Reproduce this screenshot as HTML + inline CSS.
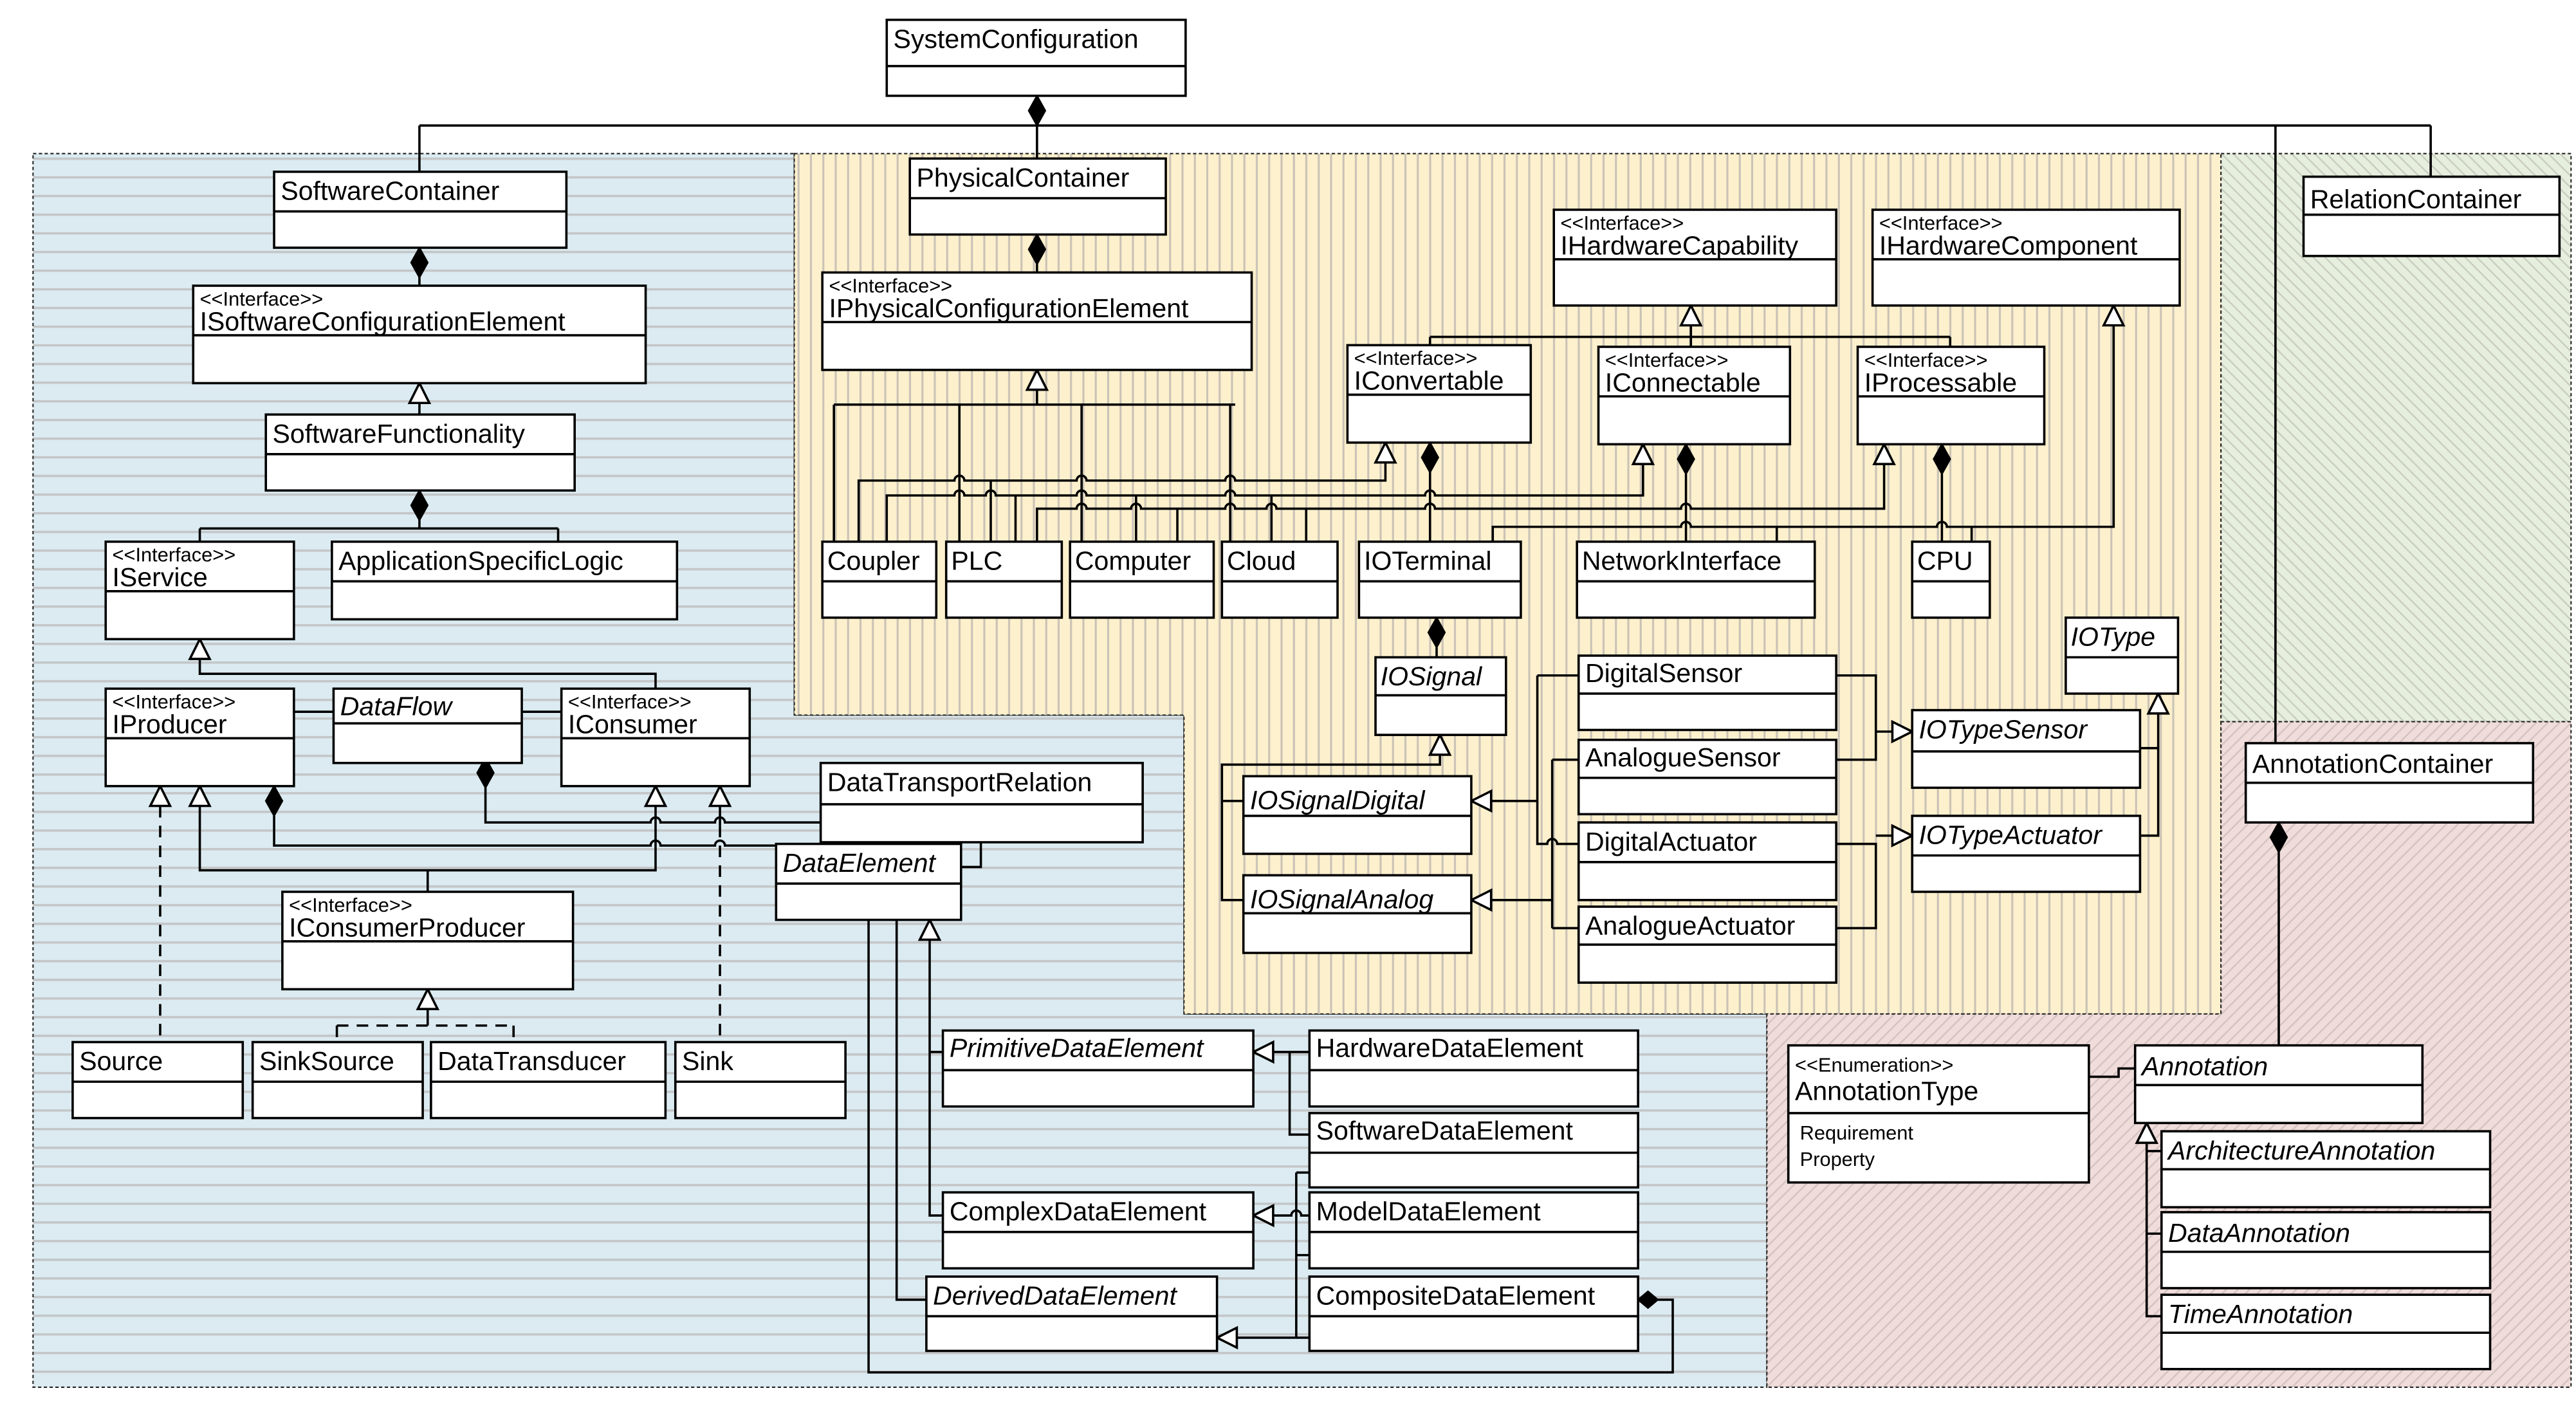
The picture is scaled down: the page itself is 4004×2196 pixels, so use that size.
<!DOCTYPE html>
<html><head><meta charset="utf-8"><style>
html,body{margin:0;padding:0;background:#fff;}
svg{display:block;}
text{font-family:"Liberation Sans",Arial,sans-serif;fill:#000;transform:translateY(-3px);}
.n{font-size:16px;}
.m{transform:translateY(-1px);}
.s{font-size:12px;transform:translateY(-2px);}
.i{font-style:italic;}
.b{fill:#fff;stroke:#000;stroke-width:1.4;}
.l{fill:none;stroke:#000;stroke-width:1.4;}
.d{fill:none;stroke:#000;stroke-width:1.4;stroke-dasharray:7 5;}
.t{fill:#fff;stroke:#000;stroke-width:1.4;}
.k{fill:#000;stroke:#000;stroke-width:1;}
.rg{stroke:#222;stroke-width:0.8;stroke-dasharray:2 1.5;fill:none;}
</style></head><body>
<svg width="4004" height="2196" viewBox="0 0 1560 855.6" preserveAspectRatio="none" xmlns="http://www.w3.org/2000/svg">
<defs>
<pattern id="pb" width="10" height="11.3" patternUnits="userSpaceOnUse"><rect width="10" height="11.3" fill="#dbebf1"/><rect y="5" width="10" height="1.4" fill="#c4c6c8"/></pattern>
<pattern id="py" width="7.5" height="10" patternUnits="userSpaceOnUse"><rect width="7.5" height="10" fill="#fdf0cd"/><rect x="3" width="1.2" height="10" fill="#c9c2b6"/></pattern>
<pattern id="pg" width="5" height="5" patternUnits="userSpaceOnUse" patternTransform="rotate(-45)"><rect width="5" height="5" fill="#e6eedd"/><rect width="0.9" height="5" fill="#c8ccc0"/></pattern>
<pattern id="pr" width="5" height="5" patternUnits="userSpaceOnUse" patternTransform="rotate(45)"><rect width="5" height="5" fill="#f0dcda"/><rect width="0.9" height="5" fill="#d2c2c0"/></pattern>
</defs>
<rect width="1560" height="855.6" fill="#fff"/>
<path d="M20 93 H481 V433 H717 V614 H1070 V840 H20 Z" class="rg" style="fill:url(#pb)"/>
<path d="M481 93 H1345 V614 H717 V433 H481 Z" style="fill:url(#py)" class="rg"/>
<path d="M1345 93 H1557 V437 H1345 Z" style="fill:url(#pg)" class="rg"/>
<path d="M1345 437 H1557 V840 H1070 V614 H1345 Z" style="fill:url(#pr)" class="rg"/>

<path class="l" d="M628 58 V76 M254 76 H1472 M254 76 V104 M628 76 V96 M1378 76 V450 M1472 76 V107"/>
<path class="k" d="M628 58 l5 9 l-5 9 l-5 -9 z"/>

<path class="l" d="M254 150 V173 M254 232 V251 M254 297 V320 M121 320 H338 M121 320 V328 M338 320 V328 M121 387 V408 H397 V417 M178 431 H202 M316 431 H340"/>
<path class="k" d="M254 150 l5 9 l-5 9 l-5 -9 z"/>
<path class="t" d="M254 232 l6 12 h-12 z"/>
<path class="k" d="M254 297 l5 9 l-5 9 l-5 -9 z"/>
<path class="t" d="M121 387 l6 12 h-12 z"/>
<path class="l" d="M294 477 V498 H394 a3 3 0 0 1 6 0 H433 a3 3 0 0 1 6 0 H497"/>
<path class="k" d="M294 459 l5 9 l-5 9 l-5 -9 z"/>
<path class="l" d="M166 494 V512 H394 a3 3 0 0 1 6 0 H433 a3 3 0 0 1 6 0 H470"/>
<path class="k" d="M166 476 l5 9 l-5 9 l-5 -9 z"/>
<path class="l" d="M121 488 V527 H397 V488 M259 527 V540 M436 488 V500"/>
<path class="t" d="M121 476 l6 12 h-12 z"/>
<path class="t" d="M397 476 l6 12 h-12 z"/>
<path class="t" d="M436 476 l6 12 h-12 z"/>
<path class="t" d="M97 476 l6 12 h-12 z"/>
<path class="d" d="M97 488 V631 M436 500 V631"/>
<path class="l" d="M259 611 V621"/>
<path class="t" d="M259 599 l6 12 h-12 z"/>
<path class="d" d="M204 621 H311 M204 621 V631 M311 621 V631"/>
<path class="l" d="M594 510 V525 H582"/>
<path class="l" d="M526 557 V831 H1013 V787 H1004 M543 557 V787 H561 M563 569 V736 H571 M563 637 H571"/>
<path class="t" d="M563 557 l6 12 h-12 z"/>
<path class="k" d="M992 787 l6 -5 l6 5 l-6 5 z"/>
<path class="l" d="M771 637 H793 M781 637 V687 H793 M771 736 H782 a3 3 0 0 1 6 0 H793 M785 710 H793 M785 760 H793 M785 710 V810 H793 M749 810 H785"/>
<path class="t" d="M759 637 l12 -6 v12 z"/>
<path class="t" d="M759 736 l12 -6 v12 z"/>
<path class="t" d="M737 810 l12 -6 v12 z"/>

<path class="l" d="M628 160 V165 M628 236 V245 M505 245 H748 M505 245 V328 M581 245 V328 M655 245 V328 M745 245 V328"/>
<path class="k" d="M628 142 l5 9 l-5 9 l-5 -9 z"/>
<path class="t" d="M628 224 l6 12 h-12 z"/>
<path class="l" d="M520 328 V291 H578 a3 3 0 0 1 6 0 H652 a3 3 0 0 1 6 0 H742 a3 3 0 0 1 6 0 H839 V280 M600 291 V328"/>
<path class="t" d="M839 268 l6 12 h-12 z"/>
<path class="l" d="M537 328 V300 H578 a3 3 0 0 1 6 0 H597 a3 3 0 0 1 6 0 H652 a3 3 0 0 1 6 0 H742 a3 3 0 0 1 6 0 H863 a3 3 0 0 1 6 0 H995 V281 M615 300 V328 M688 300 V328 M770 300 V328"/>
<path class="t" d="M995 269 l6 12 h-12 z"/>
<path class="l" d="M628 328 V308 H652 a3 3 0 0 1 6 0 H685 a3 3 0 0 1 6 0 H742 a3 3 0 0 1 6 0 H767 a3 3 0 0 1 6 0 H863 a3 3 0 0 1 6 0 H1018 a3 3 0 0 1 6 0 H1141 V281 M713 308 V328 M791 308 V328"/>
<path class="t" d="M1141 269 l6 12 h-12 z"/>
<path class="l" d="M904 328 V319 H1018 a3 3 0 0 1 6 0 H1173 a3 3 0 0 1 6 0 H1280 V197 M1076 319 V328 M1194 319 V328"/>
<path class="t" d="M1280 185 l6 12 h-12 z"/>
<path class="l" d="M866 286 V328 M1021 287 V328 M1176 287 V328"/>
<path class="k" d="M866 268 l5 9 l-5 9 l-5 -9 z"/>
<path class="k" d="M1021 269 l5 9 l-5 9 l-5 -9 z"/>
<path class="k" d="M1176 269 l5 9 l-5 9 l-5 -9 z"/>
<path class="l" d="M1024 197 V210 M866 204 H1181 M866 204 V209 M1181 204 V210"/>
<path class="t" d="M1024 185 l6 12 h-12 z"/>
<path class="l" d="M870 392 V398"/>
<path class="k" d="M870 374 l5 9 l-5 9 l-5 -9 z"/>
<path class="l" d="M872 457 V463 H740 V545 H753 M740 485 H753"/>
<path class="t" d="M872 445 l6 12 h-12 z"/>
<path class="l" d="M903 485 H931 M931 409 V511 H937 a3 3 0 0 1 6 0 H956 M931 409 H956 M903 545 H940 M940 460 V562 M940 460 H956 M940 562 H956"/>
<path class="t" d="M891 485 l12 -6 v12 z"/>
<path class="t" d="M891 545 l12 -6 v12 z"/>
<path class="l" d="M1112 409 H1136 V460 H1112 M1136 443 H1146 M1112 511 H1136 V562 H1112 M1136 506 H1146 M1296 453 H1307 M1296 506 H1307 V432"/>
<path class="t" d="M1158 443 l-12 -6 v12 z"/>
<path class="t" d="M1158 506 l-12 -6 v12 z"/>
<path class="t" d="M1307 420 l6 12 h-12 z"/>
<path class="l" d="M1380 516 V633"/>
<path class="k" d="M1380 498 l5 9 l-5 9 l-5 -9 z"/>
<path class="l" d="M1265 652 H1283 V647 H1293 M1300 692 V797 H1309 M1300 697 H1309 M1300 747 H1309"/>
<path class="t" d="M1300 680 l6 12 h-12 z"/>

<g>
<rect class="b" x="537" y="12" width="181" height="46"/><line class="l" x1="537" y1="40" x2="718" y2="40"/><text class="n" x="541" y="32">SystemConfiguration</text>
<rect class="b" x="166" y="104" width="177" height="46"/><line class="l" x1="166" y1="128" x2="343" y2="128"/><text class="n" x="170" y="124">SoftwareContainer</text>
<rect class="b" x="117" y="173" width="274" height="59"/><line class="l" x1="117" y1="203" x2="391" y2="203"/><text class="s" x="121" y="187">&lt;&lt;Interface&gt;&gt;</text><text class="n m" x="121" y="201">ISoftwareConfigurationElement</text>
<rect class="b" x="161" y="251" width="187" height="46"/><line class="l" x1="161" y1="275" x2="348" y2="275"/><text class="n" x="165" y="271">SoftwareFunctionality</text>
<rect class="b" x="64" y="328" width="114" height="59"/><line class="l" x1="64" y1="358" x2="178" y2="358"/><text class="s" x="68" y="342">&lt;&lt;Interface&gt;&gt;</text><text class="n m" x="68" y="356">IService</text>
<rect class="b" x="201" y="328" width="209" height="47"/><line class="l" x1="201" y1="352" x2="410" y2="352"/><text class="n" x="205" y="348">ApplicationSpecificLogic</text>
<rect class="b" x="64" y="417" width="114" height="59"/><line class="l" x1="64" y1="447" x2="178" y2="447"/><text class="s" x="68" y="431">&lt;&lt;Interface&gt;&gt;</text><text class="n m" x="68" y="445">IProducer</text>
<rect class="b" x="202" y="417" width="114" height="45"/><line class="l" x1="202" y1="438" x2="316" y2="438"/><text class="n i" x="206" y="436">DataFlow</text>
<rect class="b" x="340" y="417" width="114" height="59"/><line class="l" x1="340" y1="447" x2="454" y2="447"/><text class="s" x="344" y="431">&lt;&lt;Interface&gt;&gt;</text><text class="n m" x="344" y="445">IConsumer</text>
<rect class="b" x="497" y="462" width="195" height="48"/><line class="l" x1="497" y1="487" x2="692" y2="487"/><text class="n" x="501" y="482">DataTransportRelation</text>
<rect class="b" x="470" y="511" width="112" height="46"/><line class="l" x1="470" y1="535" x2="582" y2="535"/><text class="n i" x="474" y="531">DataElement</text>
<rect class="b" x="171" y="540" width="176" height="59"/><line class="l" x1="171" y1="570" x2="347" y2="570"/><text class="s" x="175" y="554">&lt;&lt;Interface&gt;&gt;</text><text class="n m" x="175" y="568">IConsumerProducer</text>
<rect class="b" x="44" y="631" width="103" height="46"/><line class="l" x1="44" y1="655" x2="147" y2="655"/><text class="n" x="48" y="651">Source</text>
<rect class="b" x="153" y="631" width="103" height="46"/><line class="l" x1="153" y1="655" x2="256" y2="655"/><text class="n" x="157" y="651">SinkSource</text>
<rect class="b" x="261" y="631" width="142" height="46"/><line class="l" x1="261" y1="655" x2="403" y2="655"/><text class="n" x="265" y="651">DataTransducer</text>
<rect class="b" x="409" y="631" width="103" height="46"/><line class="l" x1="409" y1="655" x2="512" y2="655"/><text class="n" x="413" y="651">Sink</text>
<rect class="b" x="571" y="624" width="188" height="46"/><line class="l" x1="571" y1="648" x2="759" y2="648"/><text class="n i" x="575" y="643">PrimitiveDataElement</text>
<rect class="b" x="793" y="624" width="199" height="46"/><line class="l" x1="793" y1="648" x2="992" y2="648"/><text class="n" x="797" y="643">HardwareDataElement</text>
<rect class="b" x="793" y="674" width="199" height="45"/><line class="l" x1="793" y1="698" x2="992" y2="698"/><text class="n" x="797" y="693">SoftwareDataElement</text>
<rect class="b" x="571" y="722" width="188" height="46"/><line class="l" x1="571" y1="746" x2="759" y2="746"/><text class="n" x="575" y="742">ComplexDataElement</text>
<rect class="b" x="793" y="722" width="199" height="46"/><line class="l" x1="793" y1="746" x2="992" y2="746"/><text class="n" x="797" y="742">ModelDataElement</text>
<rect class="b" x="561" y="773" width="176" height="45"/><line class="l" x1="561" y1="797" x2="737" y2="797"/><text class="n i" x="565" y="793">DerivedDataElement</text>
<rect class="b" x="793" y="773" width="199" height="45"/><line class="l" x1="793" y1="797" x2="992" y2="797"/><text class="n" x="797" y="793">CompositeDataElement</text>

<rect class="b" x="551" y="96" width="155" height="46"/><line class="l" x1="551" y1="120" x2="706" y2="120"/><text class="n" x="555" y="116">PhysicalContainer</text>
<rect class="b" x="498" y="165" width="260" height="59"/><line class="l" x1="498" y1="195" x2="758" y2="195"/><text class="s" x="502" y="179">&lt;&lt;Interface&gt;&gt;</text><text class="n m" x="502" y="193">IPhysicalConfigurationElement</text>
<rect class="b" x="941" y="127" width="171" height="58"/><line class="l" x1="941" y1="157" x2="1112" y2="157"/><text class="s" x="945" y="141">&lt;&lt;Interface&gt;&gt;</text><text class="n m" x="945" y="155">IHardwareCapability</text>
<rect class="b" x="1134" y="127" width="186" height="58"/><line class="l" x1="1134" y1="157" x2="1320" y2="157"/><text class="s" x="1138" y="141">&lt;&lt;Interface&gt;&gt;</text><text class="n m" x="1138" y="155">IHardwareComponent</text>
<rect class="b" x="816" y="209" width="111" height="59"/><line class="l" x1="816" y1="239" x2="927" y2="239"/><text class="s" x="820" y="223">&lt;&lt;Interface&gt;&gt;</text><text class="n m" x="820" y="237">IConvertable</text>
<rect class="b" x="968" y="210" width="116" height="59"/><line class="l" x1="968" y1="240" x2="1084" y2="240"/><text class="s" x="972" y="224">&lt;&lt;Interface&gt;&gt;</text><text class="n m" x="972" y="238">IConnectable</text>
<rect class="b" x="1125" y="210" width="113" height="59"/><line class="l" x1="1125" y1="240" x2="1238" y2="240"/><text class="s" x="1129" y="224">&lt;&lt;Interface&gt;&gt;</text><text class="n m" x="1129" y="238">IProcessable</text>
<rect class="b" x="498" y="328" width="69" height="46"/><line class="l" x1="498" y1="352" x2="567" y2="352"/><text class="n" x="501" y="348">Coupler</text>
<rect class="b" x="573" y="328" width="70" height="46"/><line class="l" x1="573" y1="352" x2="643" y2="352"/><text class="n" x="576" y="348">PLC</text>
<rect class="b" x="648" y="328" width="87" height="46"/><line class="l" x1="648" y1="352" x2="735" y2="352"/><text class="n" x="651" y="348">Computer</text>
<rect class="b" x="740" y="328" width="70" height="46"/><line class="l" x1="740" y1="352" x2="810" y2="352"/><text class="n" x="743" y="348">Cloud</text>
<rect class="b" x="823" y="328" width="98" height="46"/><line class="l" x1="823" y1="352" x2="921" y2="352"/><text class="n" x="826" y="348">IOTerminal</text>
<rect class="b" x="955" y="328" width="144" height="46"/><line class="l" x1="955" y1="352" x2="1099" y2="352"/><text class="n" x="958" y="348">NetworkInterface</text>
<rect class="b" x="1158" y="328" width="47" height="46"/><line class="l" x1="1158" y1="352" x2="1205" y2="352"/><text class="n" x="1161" y="348">CPU</text>
<rect class="b" x="833" y="398" width="79" height="47"/><line class="l" x1="833" y1="421" x2="912" y2="421"/><text class="n i" x="836" y="418">IOSignal</text>
<rect class="b" x="1251" y="374" width="68" height="46"/><line class="l" x1="1251" y1="398" x2="1319" y2="398"/><text class="n i" x="1254" y="394">IOType</text>
<rect class="b" x="956" y="397" width="156" height="45"/><line class="l" x1="956" y1="420" x2="1112" y2="420"/><text class="n" x="960" y="416">DigitalSensor</text>
<rect class="b" x="956" y="448" width="156" height="45"/><line class="l" x1="956" y1="471" x2="1112" y2="471"/><text class="n" x="960" y="467">AnalogueSensor</text>
<rect class="b" x="956" y="498" width="156" height="47"/><line class="l" x1="956" y1="522" x2="1112" y2="522"/><text class="n" x="960" y="518">DigitalActuator</text>
<rect class="b" x="956" y="549" width="156" height="46"/><line class="l" x1="956" y1="572" x2="1112" y2="572"/><text class="n" x="960" y="569">AnalogueActuator</text>
<rect class="b" x="753" y="470" width="138" height="47"/><line class="l" x1="753" y1="494" x2="891" y2="494"/><text class="n i" x="757" y="493">IOSignalDigital</text>
<rect class="b" x="753" y="530" width="138" height="47"/><line class="l" x1="753" y1="553" x2="891" y2="553"/><text class="n i" x="757" y="553">IOSignalAnalog</text>
<rect class="b" x="1158" y="430" width="138" height="47"/><line class="l" x1="1158" y1="455" x2="1296" y2="455"/><text class="n i" x="1162" y="450">IOTypeSensor</text>
<rect class="b" x="1158" y="494" width="138" height="46"/><line class="l" x1="1158" y1="518" x2="1296" y2="518"/><text class="n i" x="1162" y="514">IOTypeActuator</text>

<rect class="b" x="1395" y="107" width="155" height="48"/><line class="l" x1="1395" y1="130" x2="1550" y2="130"/><text class="n" x="1399" y="129">RelationContainer</text>
<rect class="b" x="1360" y="450" width="174" height="48"/><line class="l" x1="1360" y1="474" x2="1534" y2="474"/><text class="n" x="1364" y="471">AnnotationContainer</text>
<rect class="b" x="1083" y="633" width="182" height="83"/><line class="l" x1="1083" y1="674" x2="1265" y2="674"/><text class="s" x="1087" y="651">&lt;&lt;Enumeration&gt;&gt;</text><text class="n" x="1087" y="669">AnnotationType</text><text class="s" x="1090" y="692">Requirement</text><text class="s" x="1090" y="708">Property</text>
<rect class="b" x="1293" y="633" width="174" height="47"/><line class="l" x1="1293" y1="657" x2="1467" y2="657"/><text class="n i" x="1297" y="654">Annotation</text>
<rect class="b" x="1309" y="685" width="199" height="46"/><line class="l" x1="1309" y1="708" x2="1508" y2="708"/><text class="n i" x="1313" y="705">ArchitectureAnnotation</text>
<rect class="b" x="1309" y="734" width="199" height="46"/><line class="l" x1="1309" y1="758" x2="1508" y2="758"/><text class="n i" x="1313" y="755">DataAnnotation</text>
<rect class="b" x="1309" y="784" width="199" height="45"/><line class="l" x1="1309" y1="807" x2="1508" y2="807"/><text class="n i" x="1313" y="804">TimeAnnotation</text>
</g>
</svg>
</body></html>
